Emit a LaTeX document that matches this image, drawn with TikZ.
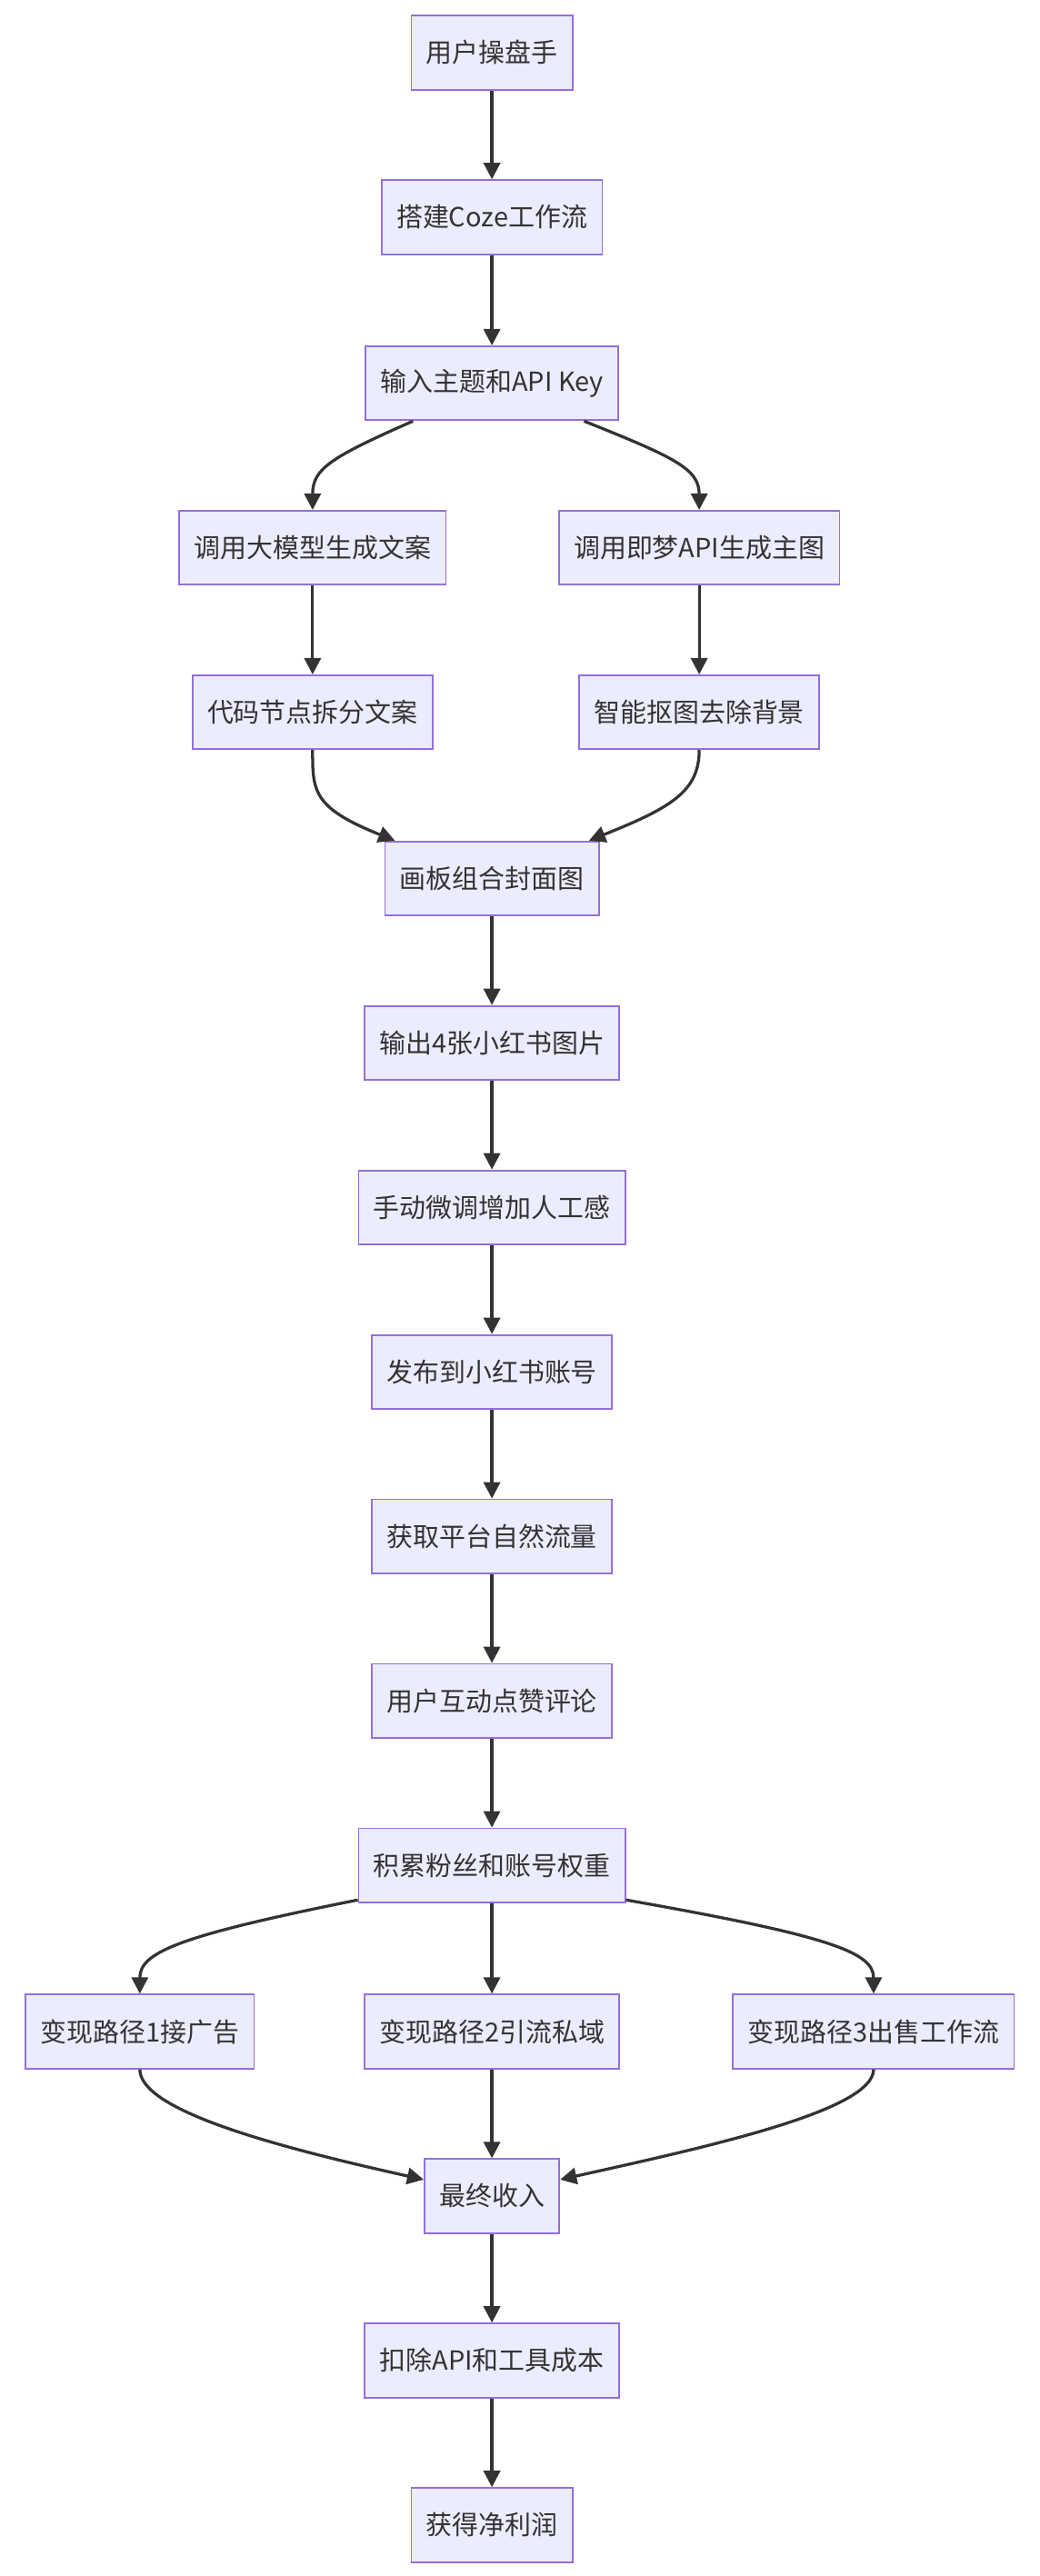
\documentclass[tikz,border=0pt]{standalone}
\usepackage{fontspec}
\setmainfont{Noto Sans CJK SC}
\usetikzlibrary{arrows.meta,calc}
\definecolor{nfill}{HTML}{ECECFF}
\definecolor{nline}{HTML}{9370DB}
\definecolor{aline}{HTML}{333333}
\begin{document}
\begin{tikzpicture}[x=1pt,y=-1pt,
  box/.style={draw=nline,fill=nfill,line width=1pt,minimum height=45pt,inner xsep=9pt,font=\fontsize{16}{18}\selectfont,text=aline},
  arr/.style={draw=aline,line width=1.8pt,-{Triangle[length=10pt,width=10pt]}}]
\useasboundingbox[fill=white] (0,0) rectangle (632,1566);
\node[box] (n1) at (299,32) {用户操盘手};
\node[box] (n2) at (299,132) {搭建Coze工作流};
\node[box] (n3) at (299,233) {输入主题和API Key};
\node[box] (n4) at (190,333) {调用大模型生成文案};
\node[box] (n5) at (425,333) {调用即梦API生成主图};
\node[box] (n6) at (190,433) {代码节点拆分文案};
\node[box] (n7) at (425,433) {智能抠图去除背景};
\node[box] (n8) at (299,534) {画板组合封面图};
\node[box] (n9) at (299,634) {输出4张小红书图片};
\node[box] (n10) at (299,734) {手动微调增加人工感};
\node[box] (n11) at (299,834) {发布到小红书账号};
\node[box] (n12) at (299,934) {获取平台自然流量};
\node[box] (n13) at (299,1034) {用户互动点赞评论};
\node[box] (n14) at (299,1134) {积累粉丝和账号权重};
\node[box] (n15) at (85,1235) {变现路径1接广告};
\node[box] (n16) at (299,1235) {变现路径2引流私域};
\node[box] (n17) at (531,1235) {变现路径3出售工作流};
\node[box] (n18) at (299,1335) {最终收入};
\node[box] (n19) at (299,1435) {扣除API和工具成本};
\node[box] (n20) at (299,1535) {获得净利润};
\foreach \a/\b in {n1/n2,n2/n3,n4/n6,n5/n7,n8/n9,n9/n10,n10/n11,n11/n12,n12/n13,n13/n14,n14/n16,n16/n18,n18/n19,n19/n20}
  \draw[arr] (\a) -- (\b);
\draw[arr] ($(n3.south)+(-48,0)$) .. controls +(-50,22) and +(0,-25) .. (n4.north);
\draw[arr] ($(n3.south)+(56,0)$) .. controls +(55,22) and +(0,-25) .. (n5.north);
\draw[arr] (n6.south) .. controls +(0,25) and +(-50,-20) .. ($(n8.north)+(-59,0)$);
\draw[arr] (n7.south) .. controls +(0,25) and +(50,-20) .. ($(n8.north)+(59,0)$);
\draw[arr] ($(n14.south west)+(0,-2)$) .. controls +(-110,22) and +(0,-25) .. (n15.north);
\draw[arr] ($(n14.south east)+(0,-2)$) .. controls +(125,22) and +(0,-25) .. (n17.north);
\draw[arr] (n15.south) .. controls +(0,25) and +(-90,-20) .. ($(n18.west)+(0,-10)$);
\draw[arr] (n17.south) .. controls +(0,25) and +(90,-20) .. ($(n18.east)+(0,-10)$);
\end{tikzpicture}
\end{document}
